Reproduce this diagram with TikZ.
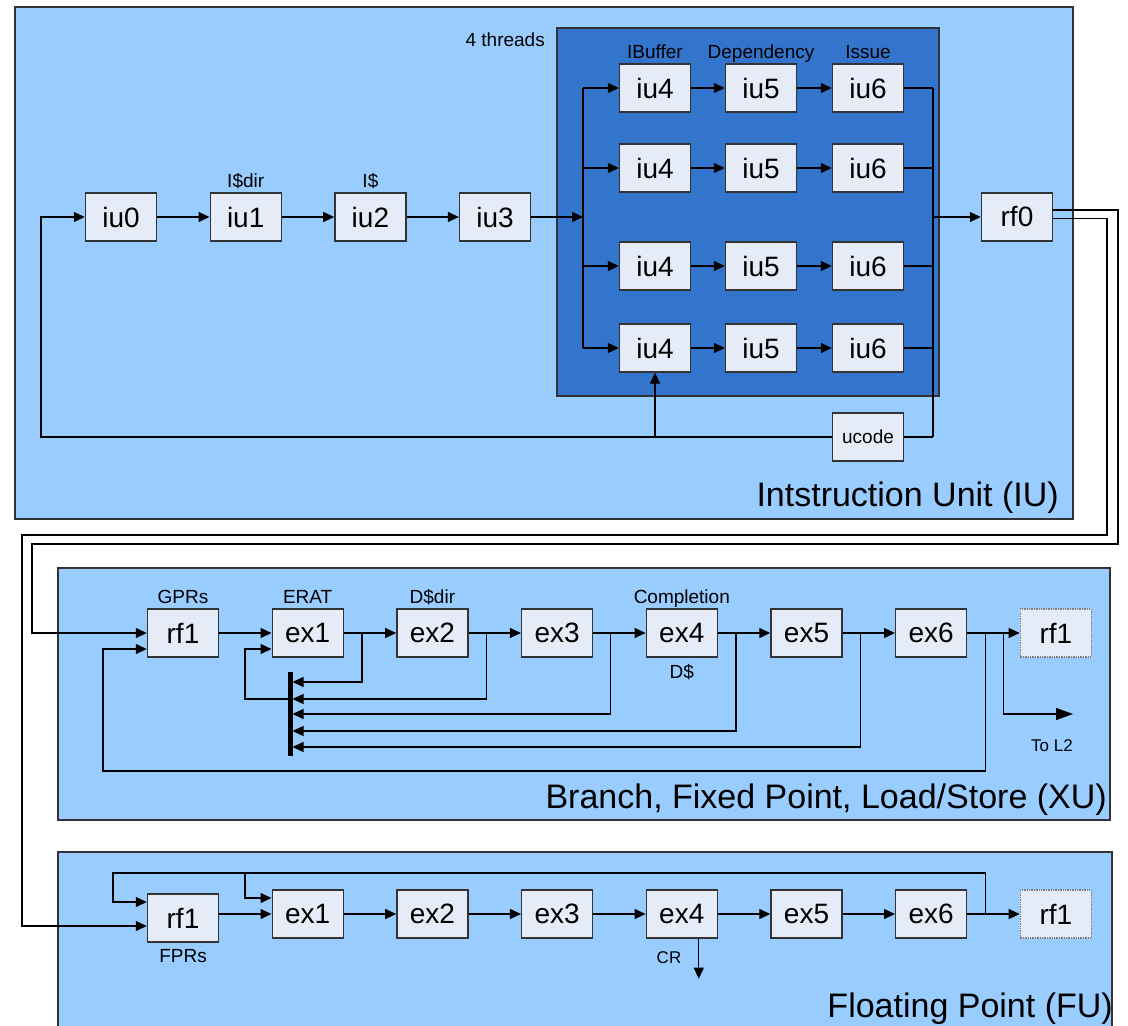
\documentclass[tikz,border=0pt]{standalone}
\usepackage{fontspec}
\setmainfont{Liberation Sans}
\usetikzlibrary{arrows.meta}

\definecolor{unitblue}{HTML}{99CCFF}
\definecolor{threadblue}{HTML}{3375CC}
\definecolor{stagefill}{HTML}{E6ECF7}
\definecolor{edgegray}{HTML}{333333}

\begin{document}
\begin{tikzpicture}[x=1pt,y=-1pt,
  stage/.style={draw=edgegray, line width=1.4pt, fill=stagefill,
    minimum width=71pt, minimum height=48pt, inner sep=0pt,
    font=\fontsize{28}{28}\selectfont},
  ghost/.style={stage, draw=gray, densely dotted},
  tag/.style={font=\fontsize{19}{19}\selectfont, inner sep=0pt},
  smalltag/.style={font=\fontsize{17}{17}\selectfont, inner sep=0pt},
  title/.style={font=\fontsize{34}{34}\selectfont, inner sep=0pt, anchor=base east},
  unit/.style={draw=edgegray, line width=1.3pt, fill=unitblue},
  wire/.style={line width=1.3pt},
  arr/.style={wire, -{Triangle[length=11pt,width=10pt]}},
  bigarr/.style={wire, -{Triangle[length=17pt,width=12pt]}}
]
\useasboundingbox (0,0) rectangle (1128,1026);
\fill[white] (0,0) rectangle (1128,1026);

% unit backgrounds
\draw[unit] (15,7) rectangle (1073,519);
\draw[unit, fill=threadblue] (557,28) rectangle (939,396);
\draw[unit] (58,568) rectangle (1110,820);
\draw[unit] (58,852) rectangle (1112,1040);

% ---------------- Instruction Unit ----------------
\node[stage] (iu0) at (121,217) {iu0};
\node[stage] (iu1) at (245.7,217) {iu1};
\node[stage] (iu2) at (370.4,217) {iu2};
\node[stage] (iu3) at (495.1,217) {iu3};
\node[stage] (rf0) at (1017,217) {rf0};
\node[stage, font=\fontsize{19}{19}\selectfont] (ucode) at (868,437) {ucode};

\node[tag, anchor=base] at ([yshift=5pt]iu1.north) {I\$dir};
\node[tag, anchor=base] at ([yshift=5pt]iu2.north) {I\$};
\node[tag, anchor=base east] at (545,46) {4 threads};

\coordinate (fanL) at (583,217);
\coordinate (fanR) at (933,217);

\foreach \rw/\y in {a/88,b/168,c/266,d/348} {
  \node[stage] (iu4\rw) at (655,\y) {iu4};
  \node[stage] (iu5\rw) at (761,\y) {iu5};
  \node[stage] (iu6\rw) at (868,\y) {iu6};
  \draw[arr] (iu4\rw) -- (iu5\rw);
  \draw[arr] (iu5\rw) -- (iu6\rw);
  \draw[arr] (fanL |- iu4\rw) -- (iu4\rw);
  \draw[wire] (iu6\rw) -- (fanR |- iu6\rw);
}

\node[tag, anchor=base] at ([yshift=5pt]iu4a.north) {IBuffer};
\node[tag, anchor=base] at ([yshift=5pt]iu5a.north) {Dependency};
\node[tag, anchor=base] at ([yshift=5pt]iu6a.north) {Issue};

\draw[arr] (iu0) -- (iu1);
\draw[arr] (iu1) -- (iu2);
\draw[arr] (iu2) -- (iu3);
\draw[arr] (iu3) -- (fanL);
\draw[wire] (fanL |- iu4a) -- (fanL |- iu4d);
\draw[wire] (fanR |- iu6a) -- (fanR |- ucode);
\draw[wire] (ucode) -- (fanR |- ucode);
\draw[arr] (fanR) -- (rf0);

\coordinate (iuret) at (41,437);
\draw[arr] (ucode) -- (iuret) |- (iu0);
\draw[arr] (iu4d |- ucode) -- (iu4d);

\node[title] at (1059,506) {Intstruction Unit (IU)};

% ---------------- Branch / Fixed Point / Load-Store ----------------
\node[stage] (xrf1) at (183,633) {rf1};
\node[stage] (xex1) at (307.7,633) {ex1};
\node[stage] (xex2) at (432.4,633) {ex2};
\node[stage] (xex3) at (557.1,633) {ex3};
\node[stage] (xex4) at (681.8,633) {ex4};
\node[stage] (xex5) at (806.5,633) {ex5};
\node[stage] (xex6) at (931.2,633) {ex6};
\node[ghost] (xout) at (1055.9,633) {rf1};

\node[tag, anchor=base] at ([yshift=5pt]xrf1.north) {GPRs};
\node[tag, anchor=base] at ([yshift=5pt]xex1.north) {ERAT};
\node[tag, anchor=base] at ([yshift=5pt]xex2.north) {D\$dir};
\node[tag, anchor=base] at ([yshift=5pt]xex4.north) {Completion};
\node[tag, anchor=north] at ([yshift=-7pt]xex4.south) {D\$};

\draw[arr] (xrf1) -- (xex1);
\draw[arr] (xex1) -- (xex2);
\draw[arr] (xex2) -- (xex3);
\draw[arr] (xex3) -- (xex4);
\draw[arr] (xex4) -- (xex5);
\draw[arr] (xex5) -- (xex6);
\draw[arr] (xex6) -- (xout);

% bypass bus
\coordinate (barTop) at (290,672);
\coordinate (barBot) at (290,756);
\draw[line width=5pt] (barTop) -- (barBot);

\coordinate (k1) at (292.5,682);
\coordinate (k2) at (292.5,699);
\coordinate (k3) at (292.5,714);
\coordinate (k4) at (292.5,731);
\coordinate (k5) at (292.5,747);

\coordinate (b1) at ([xshift=18pt]xex1.east);
\coordinate (b2) at ([xshift=18pt]xex2.east);
\coordinate (b3) at ([xshift=17pt]xex3.east);
\coordinate (b4) at ([xshift=18pt]xex4.east);
\coordinate (b5) at ([xshift=18pt]xex5.east);
\coordinate (b6) at ([xshift=18pt]xex6.east);
\coordinate (b7) at ([xshift=36pt]xex6.east);

\draw[arr] (b1) |- (k1);
\draw[arr] (b2) |- (k2);
\draw[arr] (b3) |- (k3);
\draw[arr] (b4) |- (k4);
\draw[arr] (b5) |- (k5);

\coordinate (exret) at (245,699);
\draw[arr] (barTop |- k2) -- (exret) |- ([yshift=-16pt]xex1.west);

\coordinate (wbret) at (103,771);
\draw[arr] (b6) |- (wbret) |- ([yshift=-16pt]xrf1.west);

\coordinate (toL2) at (1073,714);
\draw[bigarr] (b7) |- (toL2);
\node[smalltag] at (1052,746) {To L2};

\node[title] at (1107,808) {Branch, Fixed Point, Load/Store (XU)};

% ---------------- Floating Point ----------------
\node[stage] (frf1) at (183,918) {rf1};
\node[stage] (fex1) at (307.7,914) {ex1};
\node[stage] (fex2) at (432.4,914) {ex2};
\node[stage] (fex3) at (557.1,914) {ex3};
\node[stage] (fex4) at (681.8,914) {ex4};
\node[stage] (fex5) at (806.5,914) {ex5};
\node[stage] (fex6) at (931.2,914) {ex6};
\node[ghost] (fout) at (1055.9,914) {rf1};

\node[tag, anchor=north] at ([yshift=-7pt]frf1.south) {FPRs};

\draw[arr] (frf1.east |- fex1) -- (fex1);
\draw[arr] (fex1) -- (fex2);
\draw[arr] (fex2) -- (fex3);
\draw[arr] (fex3) -- (fex4);
\draw[arr] (fex4) -- (fex5);
\draw[arr] (fex5) -- (fex6);
\draw[arr] (fex6) -- (fout);

\coordinate (fb6) at ([xshift=18pt]fex6.east);
\coordinate (fTopL) at (113,873);
\coordinate (fTopM) at (245,873);
\draw[arr] (fb6) |- (fTopL) |- ([yshift=16pt]frf1.west);
\draw[arr] (fTopM) |- ([yshift=16pt]fex1.west);

\draw[arr] ([xshift=17pt]fex4.south) -- ++(0,40) coordinate (crEnd);
\node[smalltag] at (669,958) {CR};

\node[title] at (1113,1017) {Floating Point (FU)};

% ---------------- rf0 to the execution units ----------------
\coordinate (xuTurn) at (1118,544);
\coordinate (xuDrop) at (32,544);
\draw[arr] ([yshift=7pt]rf0.east) -| (xuTurn) -- (xuDrop) |- (xrf1);

\coordinate (fuTurn) at (1107,535);
\coordinate (fuDrop) at (22,535);
\draw[arr] ([yshift=-1.5pt]rf0.east) -| (fuTurn) -- (fuDrop) |- ([yshift=-8pt]frf1.west);

\end{tikzpicture}
\end{document}
